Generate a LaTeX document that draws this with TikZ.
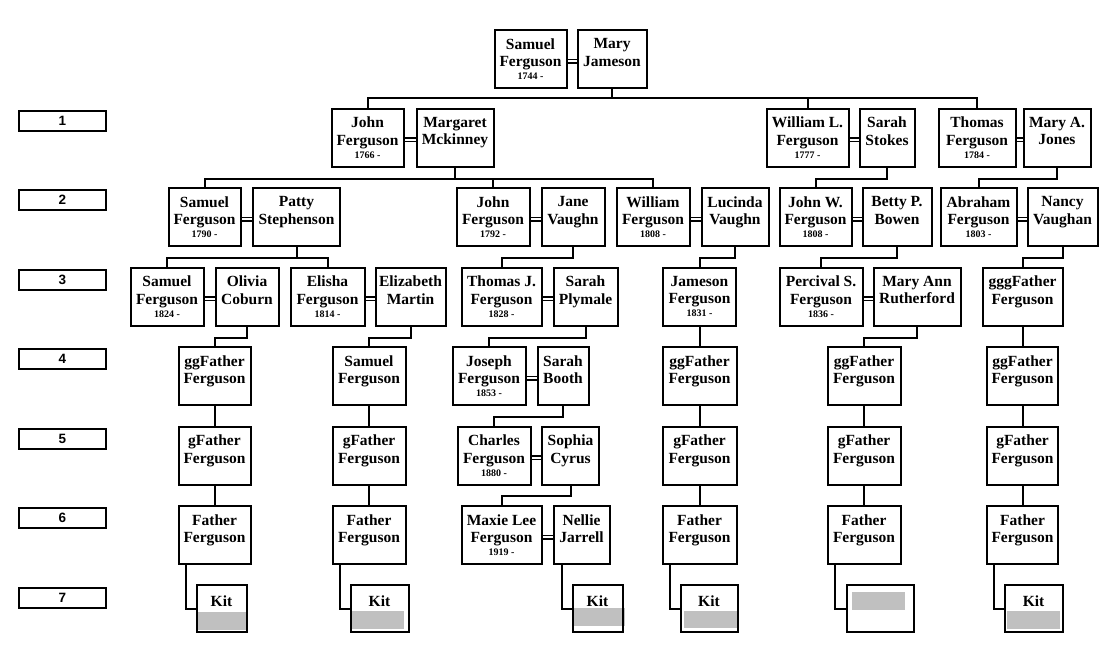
\documentclass[tikz,border=0pt]{standalone}
\usepackage{fontspec}
\setmainfont{Liberation Serif}
\newfontfamily\genfont{Liberation Sans}
\usepackage{xcolor}
\usepackage{tikz}
\usetikzlibrary{positioning}
\definecolor{kitgray}{RGB}{192,192,192}
\newcommand{\born}[1]{\\[-4.5pt]{\fontsize{10}{12}\selectfont #1}}

\begin{document}
\begin{tikzpicture}[x=1pt, y=-1pt]
    % Define styles
    \tikzstyle{person} = [rectangle, draw=black, line width=2pt, minimum height=58pt, inner sep=0pt, align=center, font=\bfseries\fontsize{15.5}{17.5}\selectfont]
    \tikzstyle{kitbox} = [rectangle, draw=black, line width=2pt, minimum height=47pt, inner sep=0pt]
    \tikzstyle{kitlabel} = [inner sep=0pt, font=\bfseries\fontsize{15.5}{17.5}\selectfont]
    \tikzstyle{genbox} = [rectangle, draw=black, line width=2pt, minimum width=87pt, minimum height=20pt, inner sep=0pt, font=\genfont\bfseries\fontsize{13.5}{15}\selectfont]
    \tikzstyle{link} = [line width=2pt]
    \tikzstyle{married} = [line width=1.3pt]

    \useasboundingbox (0,0) rectangle (1111,662);

    % Generation labels
    \node (gen1) [genbox] at (62.5, 120.5) {1};
    \node (gen2) [genbox] at (62.5, 200) {2};
    \node (gen3) [genbox] at (62.5, 279.5) {3};
    \node (gen4) [genbox] at (62.5, 359) {4};
    \node (gen5) [genbox] at (62.5, 438.5) {5};
    \node (gen6) [genbox] at (62.5, 518) {6};
    \node (gen7) [genbox] at (62.5, 597.5) {7};

    % Top couple
    \node (samuel0) [person, minimum width=72pt] at (530.5, 59) {Samuel\\Ferguson\born{1744 -}};
    \node (mary0) [person, minimum width=69pt] at (612, 59) {Mary\\Jameson\born{\phantom{1}}};

    % Generation 1
    \node (john1) [person, minimum width=72pt] at (367.5, 137.5) {John\\Ferguson\born{1766 -}};
    \node (margaret1) [person, minimum width=77pt] at (455, 137.5) {Margaret\\Mckinney\born{\phantom{1}}};
    \node (william1) [person, minimum width=82pt] at (807.5, 137.5) {William L.\\Ferguson\born{1777 -}};
    \node (sarah1) [person, minimum width=55pt] at (887, 137.5) {Sarah\\Stokes\born{\phantom{1}}};
    \node (thomas1) [person, minimum width=77pt] at (977, 137.5) {Thomas\\Ferguson\born{1784 -}};
    \node (marya1) [person, minimum width=67pt] at (1057, 137.5) {Mary A.\\Jones\born{\phantom{1}}};

    % Generation 2
    \node (samuel2) [person, minimum width=72pt] at (204.5, 217) {Samuel\\Ferguson\born{1790 -}};
    \node (patty2) [person, minimum width=87pt] at (296.5, 217) {Patty\\Stephenson\born{\phantom{1}}};
    \node (john2) [person, minimum width=73pt] at (493, 217) {John\\Ferguson\born{1792 -}};
    \node (jane2) [person, minimum width=63pt] at (573, 217) {Jane\\Vaughn\born{\phantom{1}}};
    \node (william2) [person, minimum width=73pt] at (653, 217) {William\\Ferguson\born{1808 -}};
    \node (lucinda2) [person, minimum width=67pt] at (735, 217) {Lucinda\\Vaughn\born{\phantom{1}}};
    \node (johnw2) [person, minimum width=72pt] at (815.5, 217) {John W.\\Ferguson\born{1808 -}};
    \node (betty2) [person, minimum width=69pt] at (897, 217) {Betty P.\\Bowen\born{\phantom{1}}};
    \node (abraham2) [person, minimum width=76pt] at (978.5, 217) {Abraham\\Ferguson\born{1803 -}};
    \node (nancy2) [person, minimum width=70pt] at (1062.5, 217) {Nancy\\Vaughan\born{\phantom{1}}};

    % Generation 3
    \node (samuel3) [person, minimum width=73pt] at (167, 296.5) {Samuel\\Ferguson\born{1824 -}};
    \node (olivia3) [person, minimum width=63pt] at (247, 296.5) {Olivia\\Coburn\born{\phantom{1}}};
    \node (elisha3) [person, minimum width=74pt] at (327.5, 296.5) {Elisha\\Ferguson\born{1814 -}};
    \node (elizabeth3) [person, minimum width=70pt] at (410.5, 296.5) {Elizabeth\\Martin\born{\phantom{1}}};
    \node (thomasj3) [person, minimum width=80pt] at (501.5, 296.5) {Thomas J.\\Ferguson\born{1828 -}};
    \node (plymale3) [person, minimum width=64pt] at (585.5, 296.5) {Sarah\\Plymale\born{\phantom{1}}};
    \node (jameson3) [person, minimum width=73pt] at (699.5, 296.5) {Jameson\\Ferguson\born{1831 -}};
    \node (percival3) [person, minimum width=83pt] at (821, 296.5) {Percival S.\\Ferguson\born{1836 -}};
    \node (maryann3) [person, minimum width=87pt] at (917, 296.5) {Mary Ann\\Rutherford\born{\phantom{1}}};
    \node (gggfather3) [person, minimum width=80pt] at (1022.5, 296.5) {gggFather\\Ferguson\born{\phantom{1}}};

    % Generation 4
    \node (ggfather4a) [person, minimum width=72pt] at (214.5, 376) {ggFather\\Ferguson\born{\phantom{1}}};
    \node (samuel4) [person, minimum width=73pt] at (369, 376) {Samuel\\Ferguson\born{\phantom{1}}};
    \node (joseph4) [person, minimum width=73pt] at (489, 376) {Joseph\\Ferguson\born{1853 -}};
    \node (booth4) [person, minimum width=51pt] at (563, 376) {Sarah\\Booth\born{\phantom{1}}};
    \node (ggfather4b) [person, minimum width=74pt] at (699.5, 376) {ggFather\\Ferguson\born{\phantom{1}}};
    \node (ggfather4c) [person, minimum width=73pt] at (864, 376) {ggFather\\Ferguson\born{\phantom{1}}};
    \node (ggfather4d) [person, minimum width=71pt] at (1022.5, 376) {ggFather\\Ferguson\born{\phantom{1}}};

    % Generation 5
    \node (gfather5a) [person, minimum width=72pt] at (214.5, 455.5) {gFather\\Ferguson\born{\phantom{1}}};
    \node (gfather5b) [person, minimum width=73pt] at (369, 455.5) {gFather\\Ferguson\born{\phantom{1}}};
    \node (charles5) [person, minimum width=73pt] at (494, 455.5) {Charles\\Ferguson\born{1880 -}};
    \node (sophia5) [person, minimum width=57pt] at (570.5, 455.5) {Sophia\\Cyrus\born{\phantom{1}}};
    \node (gfather5c) [person, minimum width=74pt] at (699.5, 455.5) {gFather\\Ferguson\born{\phantom{1}}};
    \node (gfather5d) [person, minimum width=73pt] at (864, 455.5) {gFather\\Ferguson\born{\phantom{1}}};
    \node (gfather5e) [person, minimum width=71pt] at (1022.5, 455.5) {gFather\\Ferguson\born{\phantom{1}}};

    % Generation 6
    \node (father6a) [person, minimum width=72pt] at (214.5, 535) {Father\\Ferguson\born{\phantom{1}}};
    \node (father6b) [person, minimum width=73pt] at (369, 535) {Father\\Ferguson\born{\phantom{1}}};
    \node (maxie6) [person, minimum width=80pt] at (501.5, 535) {Maxie Lee\\Ferguson\born{1919 -}};
    \node (nellie6) [person, minimum width=56pt] at (581.5, 535) {Nellie\\Jarrell\born{\phantom{1}}};
    \node (father6c) [person, minimum width=74pt] at (699.5, 535) {Father\\Ferguson\born{\phantom{1}}};
    \node (father6d) [person, minimum width=73pt] at (864, 535) {Father\\Ferguson\born{\phantom{1}}};
    \node (father6e) [person, minimum width=71pt] at (1022.5, 535) {Father\\Ferguson\born{\phantom{1}}};

    % Generation 7: kit boxes with grey bars
    \fill[kitgray] (197,612) rectangle (248,630);
    \fill[kitgray] (351,611) rectangle (404,629);
    \fill[kitgray] (573,608) rectangle (625,626);
    \fill[kitgray] (684,611) rectangle (737,628);
    \fill[kitgray] (852,592) rectangle (905,610);
    \fill[kitgray] (1007,611) rectangle (1060,629);
    \node (kit7a) [kitbox, minimum width=50pt] at (221.5, 608.5) {};
    \node (kit7b) [kitbox, minimum width=58pt] at (379.5, 608.5) {};
    \node (kit7c) [kitbox, minimum width=50pt] at (597.5, 608.5) {};
    \node (kit7d) [kitbox, minimum width=57pt] at (709, 608.5) {};
    \node (kit7e) [kitbox, minimum width=67pt] at (880, 608.5) {};
    \node (kit7f) [kitbox, minimum width=58pt] at (1033.5, 608.5) {};
    \node (kittext7a) [kitlabel] at (221.5, 601) {Kit};
    \node (kittext7b) [kitlabel] at (379.5, 601) {Kit};
    \node (kittext7c) [kitlabel] at (597.5, 601) {Kit};
    \node (kittext7d) [kitlabel] at (709, 601) {Kit};
    \node (kittext7f) [kitlabel] at (1033.5, 601) {Kit};

    % Marriage lines
    \draw [married] ([yshift=-0.5pt]samuel0.east) -- ([yshift=-0.5pt]mary0.west) ([yshift=-4pt]samuel0.east) -- ([yshift=-4pt]mary0.west);
    \draw [married] ([yshift=-0.5pt]john1.east) -- ([yshift=-0.5pt]margaret1.west) ([yshift=-4pt]john1.east) -- ([yshift=-4pt]margaret1.west);
    \draw [married] ([yshift=-0.5pt]william1.east) -- ([yshift=-0.5pt]sarah1.west) ([yshift=-4pt]william1.east) -- ([yshift=-4pt]sarah1.west);
    \draw [married] ([yshift=-0.5pt]thomas1.east) -- ([yshift=-0.5pt]marya1.west) ([yshift=-4pt]thomas1.east) -- ([yshift=-4pt]marya1.west);
    \draw [married] ([yshift=-0.5pt]samuel2.east) -- ([yshift=-0.5pt]patty2.west) ([yshift=-4pt]samuel2.east) -- ([yshift=-4pt]patty2.west);
    \draw [married] ([yshift=-0.5pt]john2.east) -- ([yshift=-0.5pt]jane2.west) ([yshift=-4pt]john2.east) -- ([yshift=-4pt]jane2.west);
    \draw [married] ([yshift=-0.5pt]william2.east) -- ([yshift=-0.5pt]lucinda2.west) ([yshift=-4pt]william2.east) -- ([yshift=-4pt]lucinda2.west);
    \draw [married] ([yshift=-0.5pt]johnw2.east) -- ([yshift=-0.5pt]betty2.west) ([yshift=-4pt]johnw2.east) -- ([yshift=-4pt]betty2.west);
    \draw [married] ([yshift=-0.5pt]abraham2.east) -- ([yshift=-0.5pt]nancy2.west) ([yshift=-4pt]abraham2.east) -- ([yshift=-4pt]nancy2.west);
    \draw [married] ([yshift=-0.5pt]samuel3.east) -- ([yshift=-0.5pt]olivia3.west) ([yshift=-4pt]samuel3.east) -- ([yshift=-4pt]olivia3.west);
    \draw [married] ([yshift=-0.5pt]elisha3.east) -- ([yshift=-0.5pt]elizabeth3.west) ([yshift=-4pt]elisha3.east) -- ([yshift=-4pt]elizabeth3.west);
    \draw [married] ([yshift=-0.5pt]thomasj3.east) -- ([yshift=-0.5pt]plymale3.west) ([yshift=-4pt]thomasj3.east) -- ([yshift=-4pt]plymale3.west);
    \draw [married] ([yshift=-0.5pt]percival3.east) -- ([yshift=-0.5pt]maryann3.west) ([yshift=-4pt]percival3.east) -- ([yshift=-4pt]maryann3.west);
    \draw [married] ([yshift=-0.5pt]joseph4.east) -- ([yshift=-0.5pt]booth4.west) ([yshift=-4pt]joseph4.east) -- ([yshift=-4pt]booth4.west);
    \draw [married] ([yshift=-0.5pt]charles5.east) -- ([yshift=-0.5pt]sophia5.west) ([yshift=-4pt]charles5.east) -- ([yshift=-4pt]sophia5.west);
    \draw [married] ([yshift=-0.5pt]maxie6.east) -- ([yshift=-0.5pt]nellie6.west) ([yshift=-4pt]maxie6.east) -- ([yshift=-4pt]nellie6.west);

    % Descent lines
    \draw [link] (mary0.south) -- ++(0,9) -| (john1.north) (mary0.south) ++(0,9) -| (william1.north) (mary0.south) ++(0,9) -| (thomas1.north);
    \draw [link] (margaret1.south) -- ++(0,11) -| (samuel2.north) (margaret1.south) ++(0,11) -| (john2.north) (margaret1.south) ++(0,11) -| (william2.north);
    \draw [link] (sarah1.south) -- ++(0,11) -| (johnw2.north);
    \draw [link] (marya1.south) -- ++(0,11) -| (abraham2.north);
    \draw [link] (patty2.south) -- ++(0,10.5) -| (samuel3.north) (patty2.south) ++(0,10.5) -| (elisha3.north);
    \draw [link] (jane2.south) -- ++(0,10.5) -| (thomasj3.north);
    \draw [link] (lucinda2.south) -- ++(0,10.5) -| (jameson3.north);
    \draw [link] (betty2.south) -- ++(0,10.5) -| (percival3.north);
    \draw [link] (nancy2.south) -- ++(0,10.5) -| (gggfather3.north);
    \draw [link] (olivia3.south) -- ++(0,11) -| (ggfather4a.north);
    \draw [link] (elizabeth3.south) -- ++(0,11) -| (samuel4.north);
    \draw [link] (plymale3.south) -- ++(0,11) -| (joseph4.north);
    \draw [link] (jameson3) -- (ggfather4b);
    \draw [link] (maryann3.south) -- ++(0,11) -| (ggfather4c.north);
    \draw [link] (gggfather3) -- (ggfather4d);
    \draw [link] (ggfather4a) -- (gfather5a);
    \draw [link] (samuel4) -- (gfather5b);
    \draw [link] (booth4.south) -- ++(0,10.5) -| (charles5.north);
    \draw [link] (ggfather4b) -- (gfather5c);
    \draw [link] (ggfather4c) -- (gfather5d);
    \draw [link] (ggfather4d) -- (gfather5e);
    \draw [link] (gfather5a) -- (father6a);
    \draw [link] (gfather5b) -- (father6b);
    \draw [link] (sophia5.south) -- ++(0,10) -| (maxie6.north);
    \draw [link] (gfather5c) -- (father6c);
    \draw [link] (gfather5d) -- (father6d);
    \draw [link] (gfather5e) -- (father6e);

    % Kit lines
    \draw [link] (father6a.south west) ++(8,0) |- (kit7a.west);
    \draw [link] (father6b.south west) ++(8,0) |- (kit7b.west);
    \draw [link] (nellie6.south west) ++(9,0) |- (kit7c.west);
    \draw [link] (father6c.south west) ++(8,0) |- (kit7d.west);
    \draw [link] (father6d.south west) ++(8,0) |- (kit7e.west);
    \draw [link] (father6e.south west) ++(8,0) |- (kit7f.west);
\end{tikzpicture}
\end{document}
